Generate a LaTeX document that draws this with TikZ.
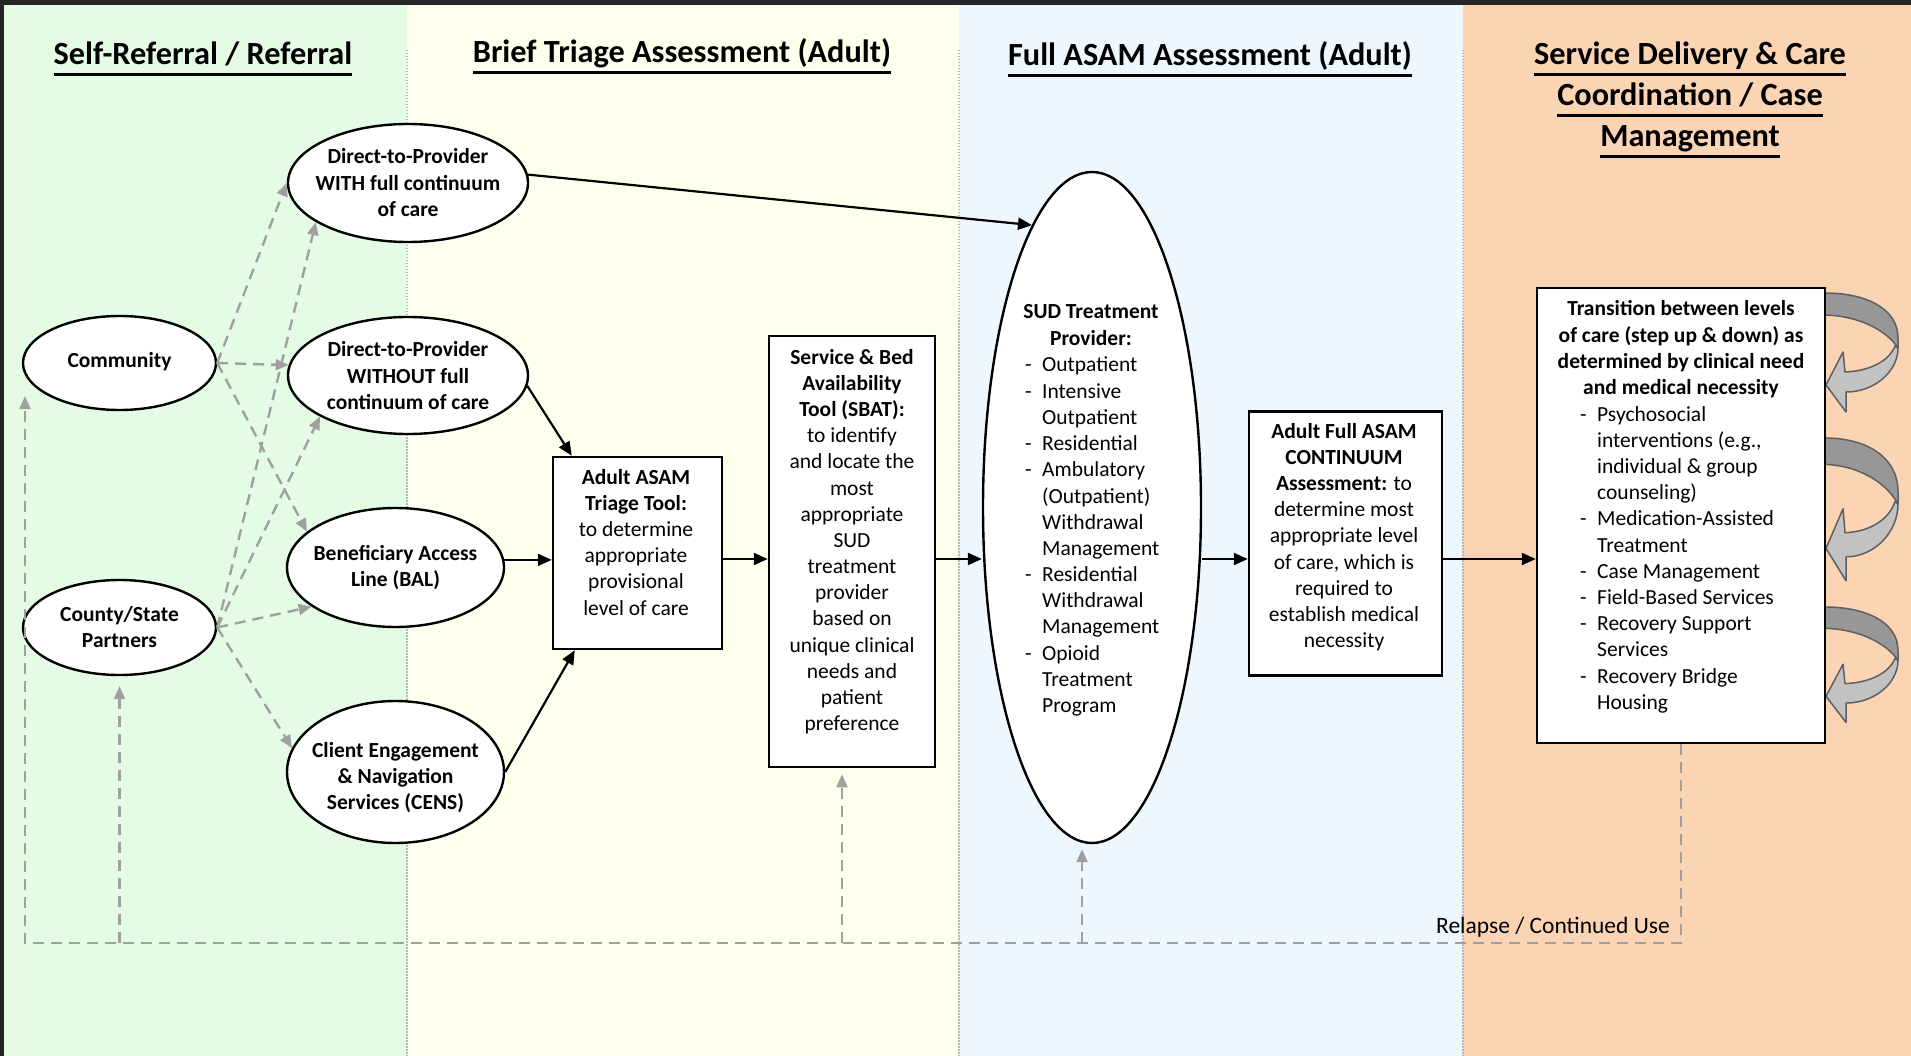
\documentclass[tikz,border=0pt]{standalone}
\usepackage{fontspec}
\setmainfont{Carlito}
\usepackage{array}
\usetikzlibrary{arrows.meta,shapes.geometric,calc}
\definecolor{pgreen}{HTML}{E3FCE3}
\definecolor{pyellow}{HTML}{FFFFEE}
\definecolor{pblue}{HTML}{EEF6FE}
\definecolor{porange}{HTML}{FBD4B4}
\definecolor{dashgray}{HTML}{A0A0A0}
\definecolor{sepgray}{HTML}{B8B8B8}
\definecolor{ribdark}{HTML}{979797}
\definecolor{riblight}{HTML}{C2C2C2}
\definecolor{ribedge}{HTML}{5F5F5F}
\newcommand\bodyfont{\fontsize{21.5pt}{26.2pt}\selectfont}
\newcommand\headfont{\fontsize{32.3pt}{41pt}\selectfont\bfseries}
\newcommand\hul[1]{\setbox0\hbox{#1}\rlap{\rule[-11pt]{\wd0}{2.6pt}}\box0}
\newcommand\clines[1]{\begin{tabular}[t]{@{}c@{}}#1\end{tabular}}
\newcommand\blist[1]{\begin{tabular}[t]{@{}p{17pt}@{}l@{}}#1\end{tabular}}
\newcommand\ribarrow[2]{%
\begin{scope}[shift={(1825,#1)}, yscale=#2]
\filldraw[fill=ribdark, draw=ribedge, line width=1.5pt, line join=round] (0,0) .. controls (40,0) and (73,15) .. (73,45) -- (73,55) .. controls (62,38) and (35,23) .. (0,22) -- cycle;
\filldraw[fill=riblight, draw=ribedge, line width=1.5pt, line join=round] (73,55) .. controls (73,78) and (50,99) .. (21,99) -- (21,119) -- (1,92) -- (18,59) -- (20,79) .. controls (45,78) and (64,68) .. (70,53) -- cycle;
\end{scope}}
\begin{document}
\begin{tikzpicture}[x=1pt,y=-1pt,
  ell/.style={ellipse, draw=black, line width=2.4pt, fill=white, inner sep=0pt},
  rbox/.style={rectangle, draw=black, line width=2.5pt, fill=white, inner sep=0pt},
  txt/.style={inner sep=0pt, anchor=base, font=\bodyfont},
  btxt/.style={inner sep=0pt, anchor=base, font=\bodyfont\bfseries},
  ltxt/.style={inner sep=0pt, anchor=base west, font=\bodyfont},
  hd/.style={inner sep=0pt, anchor=base, font=\headfont},
  blk/.style={draw=black, line width=2.2pt, -{Triangle[length=14pt,width=12pt]}},
  gd/.style={draw=dashgray, line width=2.4pt, dash pattern=on 11pt off 7pt, -{Triangle[length=13pt,width=11pt]}},
  panelsep/.style={draw=sepgray, line width=1.3pt, dash pattern=on 1.5pt off 1.5pt}]
\useasboundingbox (0,0) rectangle (1911,1056);
% panels
\fill[pgreen] (0,0) rectangle (407,1056);
\fill[pyellow] (407,0) rectangle (959,1056);
\fill[pblue] (959,0) rectangle (1463,1056);
\fill[porange] (1463,0) rectangle (1911,1056);
\draw[panelsep] (407,50) -- (407,1056);
\draw[panelsep] (959,50) -- (959,1056);
\draw[panelsep] (1463,50) -- (1463,1056);
\fill[black!85] (0,0) rectangle (1911,5);
\fill[black!85] (0,0) rectangle (4,1056);
% headings
\node[hd] (h1) at (203,65) {\hul{Self-Referral / Referral}};
\node[hd] (h2) at (682,63) {\hul{Brief Triage Assessment (Adult)}};
\node[hd] (h3) at (1210,66) {\hul{Full ASAM Assessment (Adult)}};
\node[hd] (h4) at (1690,65) {\clines{\hul{Service Delivery \& Care}\\\hul{Coordination / Case}\\\hul{Management}}};
% curved arrows
\ribarrow{293}{1}
\ribarrow{438}{1.2}
\ribarrow{607}{0.97}
% shapes
\node[ell, minimum width=193pt, minimum height=94pt] (comm) at (119.5,363) {};
\node[ell, minimum width=193pt, minimum height=95pt] (county) at (119.5,627.5) {};
\node[ell, minimum width=240pt, minimum height=118pt] (d2pw) at (408,183) {};
\node[ell, minimum width=240pt, minimum height=117pt] (d2pwo) at (408,375.5) {};
\node[ell, minimum width=217pt, minimum height=119pt] (bal) at (395.5,567.5) {};
\node[ell, minimum width=217pt, minimum height=142pt] (cens) at (395.5,772) {};
\node[ell, minimum width=218pt, minimum height=671pt] (sud) at (1092,507.5) {};
\node[rbox, minimum width=169pt, minimum height=192pt] (triage) at (637.5,553) {};
\node[rbox, minimum width=166pt, minimum height=431pt] (sbat) at (852,551.5) {};
\node[rbox, minimum width=193pt, minimum height=264pt] (fasam) at (1345.5,543.5) {};
\node[rbox, minimum width=288pt, minimum height=455pt] (trans) at (1681,515.5) {};
% texts
\node[btxt] (commt) at (119.5,367) {Community};
\node[btxt] (countyt) at (119.5,621) {\clines{County/State\\Partners}};
\node[btxt] (d2pwt) at (408,164) {\clines{Direct-to-Provider\\WITH full continuum\\of care}};
\node[btxt] (d2pwot) at (408,357) {\clines{Direct-to-Provider\\WITHOUT full\\continuum of care}};
\node[btxt] (balt) at (395.5,560) {\clines{Beneficiary Access\\Line (BAL)}};
\node[btxt] (censt) at (395.5,757) {\clines{Client Engagement\\\& Navigation\\Services (CENS)}};
\node[txt] (triaget) at (636,484) {\clines{\textbf{Adult ASAM}\\\textbf{Triage Tool:}\\to determine\\appropriate\\provisional\\level of care}};
\node[txt] (sbatt) at (852,364) {\clines{\textbf{Service \& Bed}\\\textbf{Availability}\\\textbf{Tool (SBAT):}\\to identify\\and locate the\\most\\appropriate\\SUD\\treatment\\provider\\based on\\unique clinical\\needs and\\patient\\preference}};
\node[btxt] (sudt) at (1091,319) {\clines{SUD Treatment\\Provider:}};
\node[ltxt] (sudl) at (1025,372) {\blist{-&Outpatient\\-&Intensive\\&Outpatient\\-&Residential\\-&Ambulatory\\&(Outpatient)\\&Withdrawal\\&Management\\-&Residential\\&Withdrawal\\&Management\\-&Opioid\\&Treatment\\&Program}};
\node[txt] (fasamt) at (1344,438) {\clines{\textbf{Adult Full ASAM}\\\textbf{CONTINUUM}\\\textbf{Assessment:} to\\determine most\\appropriate level\\of care, which is\\required to\\establish medical\\necessity}};
\node[btxt] (transt) at (1681,316) {\clines{Transition between levels\\of care (step up \& down) as\\determined by clinical need\\and medical necessity}};
\node[ltxt] (transl) at (1580,421) {\blist{-&Psychosocial\\&interventions (e.g.,\\&individual \& group\\&counseling)\\-&Medication-Assisted\\&Treatment\\-&Case Management\\-&Field-Based Services\\-&Recovery Support\\&Services\\-&Recovery Bridge\\&Housing}};
\node[inner sep=0pt, anchor=base east, font=\fontsize{23.5pt}{28pt}\selectfont] (relapse) at (1670,933) {Relapse / Continued Use};
% gray dashed referrals
\draw[gd] (comm.east) -- (d2pw.west);
\draw[gd] (comm.east) -- (d2pwo.175);
\draw[gd] (comm.east) -- (bal.158);
\draw[gd] (county.east) -- (d2pw.203);
\draw[gd] (county.east) -- (d2pwo.205);
\draw[gd] (county.east) -- (bal.205);
\draw[gd] (county.east) -- (cens.167);
% relapse loop
\coordinate (bot) at (0,943);
\coordinate (commin) at (25,396);
\coordinate (countyin) at ([yshift=-10pt]county.south);
\coordinate (sbatin) at ([xshift=-10pt,yshift=-6pt]sbat.south);
\coordinate (sudin) at ([xshift=-10pt,yshift=-5pt]sud.south);
\draw[gd] (trans.south) -- (trans.south |- bot) -| (commin);
\draw[gd] (countyin |- bot) -- (countyin);
\draw[gd] (sbatin |- bot) -- (sbatin);
\draw[gd] (sudin |- bot) -- (sudin);
% black flow
\coordinate (ml) at (0,559);
\draw[blk] (d2pw.4) -- (sud.102);
\draw[blk] (d2pwo.-5) -- ([xshift=20pt]triage.north west);
\draw[blk] (bal.4) -- (bal.4 -| triage.west);
\draw[blk] (cens.east) -- ([xshift=23pt]triage.south west);
\draw[blk] (triage.east |- ml) -- (sbat.west |- ml);
\draw[blk] (sbat.east |- ml) -- (sud.west |- ml);
\draw[blk] (sud.east |- ml) -- (fasam.west |- ml);
\draw[blk] (fasam.east |- ml) -- (trans.west |- ml);
\end{tikzpicture}
\end{document}
